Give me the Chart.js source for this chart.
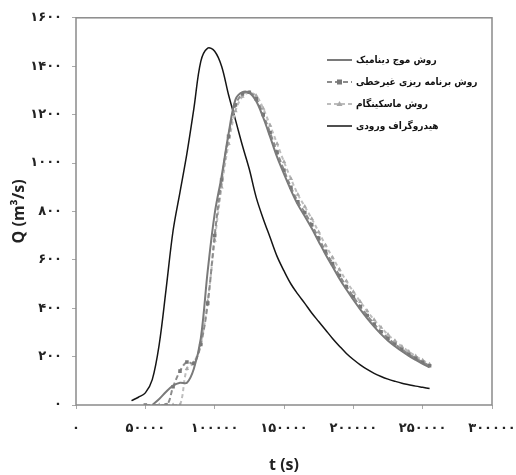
<!DOCTYPE html>
<html>
<head>
<meta charset="utf-8">
<script src="https://cdn.jsdelivr.net/npm/chart.js@4/dist/chart.umd.min.js"></script>
<style>
  body { margin: 0; background: #fff; }
  #wrap { width: 516px; height: 475px; }
</style>
</head>
<body>
<div id="wrap"><canvas id="chart" width="516" height="475"></canvas></div>
<script>
// time (s)
const times = [40000, 45000, 50000, 55000, 60000, 65000, 70000, 75000, 80000, 85000,
    90000, 95000, 100000, 105000, 110000, 115000, 120000, 125000, 130000, 135000,
    140000, 145000, 150000, 155000, 160000, 165000, 170000, 175000, 180000, 185000,
    190000, 195000, 200000, 205000, 210000, 215000, 220000, 225000, 230000, 235000,
    240000, 245000, 250000, 255000];

// inflow hydrograph
const inflow = [18, 32, 50, 105, 250, 480, 720, 880, 1040, 1225,
    1420, 1475, 1462, 1400, 1282, 1178, 1072, 974, 857, 770,
    692, 614, 554, 500, 458, 420, 380, 345, 310, 275,
    243, 213, 188, 166, 147, 131, 118, 107, 98, 90,
    84, 78, 73, 68];

// dynamic wave
const dynamicWave = [null, null, null, 0, 25, 55, 80, 92, 92, 150,
    275, 555, 790, 945, 1120, 1262, 1293, 1290, 1255, 1188,
    1108, 1025, 955, 888, 828, 780, 730, 676, 622, 572,
    522, 477, 435, 395, 358, 324, 293, 266, 243, 222,
    203, 186, 170, 156];

// nonlinear programming
const nonlinearProg = [null, null, 0, null, null, 0, 75, 140, 178, 172,
    250, 420, 700, 930, 1110, 1240, 1285, 1292, 1265, 1200,
    1125, 1045, 970, 900, 840, 795, 745, 690, 635, 585,
    535, 490, 447, 407, 370, 335, 303, 276, 252, 230,
    210, 193, 177, 162];

// muskingum
const muskingum = [null, null, null, null, 0, 0, 0, 0, 150, 175,
    255, 430, 680, 900, 1080, 1215, 1275, 1290, 1278, 1225,
    1155, 1080, 1005, 935, 870, 820, 770, 715, 660, 610,
    560, 512, 468, 427, 388, 352, 320, 291, 265, 242,
    221, 202, 185, 168];

const seriesNames = ['روش موج دینامیک', 'روش برنامه ریزی غیرخطی', 'روش ماسکینگام', 'هیدروگراف ورودی'];
const xTickLabels = ['۰', '۵۰۰۰۰', '۱۰۰۰۰۰', '۱۵۰۰۰۰', '۲۰۰۰۰۰', '۲۵۰۰۰۰', '۳۰۰۰۰۰'];
const yTickLabels = ['۰', '۲۰۰', '۴۰۰', '۶۰۰', '۸۰۰', '۱۰۰۰', '۱۲۰۰', '۱۴۰۰', '۱۶۰۰'];

const pts = arr => times.map((t, i) => ({ x: t, y: arr[i] }));

// legend drawn inside the plot, sample line on the left of the text
const legendPlugin = {
    id: 'boxLegend',
    afterDraw(chart) {
        const ctx = chart.ctx;
        const rows = [60, 82, 104, 126];
        chart.data.datasets.forEach((ds, i) => {
            const y = rows[i];
            ctx.save();
            ctx.strokeStyle = ds.borderColor;
            ctx.lineWidth = ds.borderWidth;
            ctx.setLineDash(ds.borderDash || []);
            ctx.beginPath();
            ctx.moveTo(327, y);
            ctx.lineTo(352, y);
            ctx.stroke();
            ctx.setLineDash([]);
            if (ds.pointRadius > 0) {
                ctx.fillStyle = ds.pointBackgroundColor;
                if (ds.pointStyle === 'rect') {
                    ctx.fillRect(337, y - 2.5, 5, 5);
                } else {
                    ctx.beginPath();
                    ctx.moveTo(339.5, y - 3);
                    ctx.lineTo(342.5, y + 2);
                    ctx.lineTo(336.5, y + 2);
                    ctx.closePath();
                    ctx.fill();
                }
            }
            ctx.fillStyle = '#111';
            ctx.font = 'bold 10px "DejaVu Sans Condensed", "DejaVu Sans"';
            ctx.textAlign = 'left';
            ctx.textBaseline = 'middle';
            ctx.fillText(seriesNames[i], 356, y);
            ctx.restore();
        });
    }
};

// full box around plot area
const framePlugin = {
    id: 'frame',
    afterDraw(chart) {
        const { left, top, right, bottom } = chart.chartArea;
        const ctx = chart.ctx;
        ctx.save();
        ctx.strokeStyle = '#8a8a8a';
        ctx.lineWidth = 1.5;
        ctx.strokeRect(left, top, right - left, bottom - top);
        ctx.restore();
    }
};

new Chart(document.getElementById('chart').getContext('2d'), {
    type: 'line',
    data: {
        datasets: [
            {
                label: seriesNames[0],
                data: pts(dynamicWave),
                borderColor: '#7a7a7a',
                borderWidth: 2,
                pointRadius: 0,
                tension: 0.35
            },
            {
                label: seriesNames[1],
                data: pts(nonlinearProg),
                borderColor: '#8c8c8c',
                borderWidth: 2,
                borderDash: [5, 3],
                pointStyle: 'rect',
                pointRadius: 2.5,
                pointBackgroundColor: '#777',
                pointBorderWidth: 0,
                spanGaps: true,
                tension: 0.35
            },
            {
                label: seriesNames[2],
                data: pts(muskingum),
                borderColor: '#bdbdbd',
                borderWidth: 2,
                borderDash: [4, 3],
                pointStyle: 'triangle',
                pointRadius: 2.5,
                pointBackgroundColor: '#a8a8a8',
                pointBorderWidth: 0,
                tension: 0.35
            },
            {
                label: seriesNames[3],
                data: pts(inflow),
                borderColor: '#151515',
                borderWidth: 1.5,
                pointRadius: 0,
                tension: 0.35
            }
        ]
    },
    options: {
        responsive: false,
        animation: false,
        layout: { padding: { top: 17, right: 24, left: 0, bottom: 0 } },
        plugins: { legend: { display: false }, tooltip: { enabled: false } },
        scales: {
            x: {
                type: 'linear',
                min: 0,
                max: 300000,
                afterFit: s => { s.height = 70; s.paddingLeft = 0; s.paddingRight = 0; },
                grid: { drawOnChartArea: false, tickLength: 4, color: '#aaa' },
                border: { display: false },
                ticks: {
                    stepSize: 50000,
                    maxRotation: 0,
                    padding: 12,
                    color: '#222',
                    font: { family: 'DejaVu Sans', size: 13, weight: 'bold' },
                    callback: (v, i) => xTickLabels[i]
                },
                title: {
                    display: true,
                    text: 't (s)',
                    color: '#222',
                    font: { family: 'Open Sans', size: 16, weight: 'bold' },
                    padding: { top: 0, bottom: 0 }
                }
            },
            y: {
                min: 0,
                max: 1600,
                afterFit: s => { s.width = 76; },
                grid: { drawOnChartArea: false, tickLength: 4, color: '#aaa' },
                border: { display: false },
                ticks: {
                    stepSize: 200,
                    padding: 10,
                    color: '#222',
                    font: { family: 'DejaVu Sans', size: 13, weight: 'bold' },
                    callback: (v, i) => yTickLabels[i]
                },
                title: {
                    display: true,
                    text: 'Q (m³/s)',
                    color: '#222',
                    font: { family: 'Open Sans', size: 16, weight: 'bold' },
                    padding: { top: 10, bottom: 0 }
                }
            }
        }
    },
    plugins: [legendPlugin, framePlugin]
});
</script>
</body>
</html>
